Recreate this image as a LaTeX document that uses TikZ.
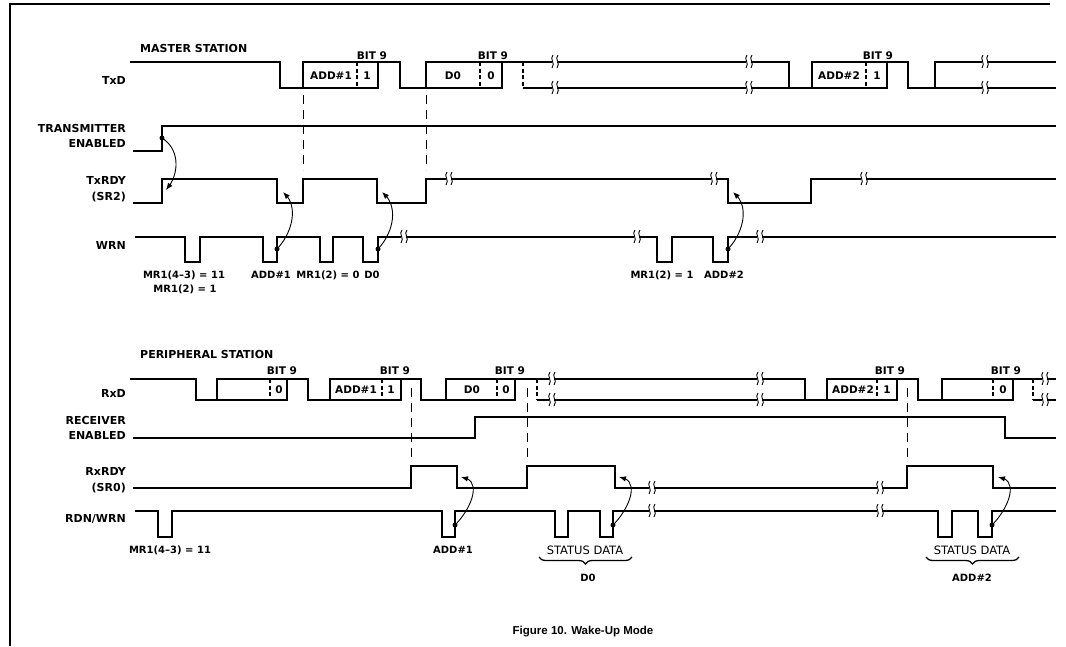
\documentclass[tikz,border=0pt]{standalone}
\usepackage{fontspec}
\setmainfont{DejaVu Sans}
\newfontfamily\capfont{Liberation Sans}
\usepackage{tikz}
\usetikzlibrary{arrows.meta}
\usetikzlibrary{bending}
\usetikzlibrary{decorations.pathreplacing}

\newcommand{\wbreak}[2]{%
	\fill[white] (#1-1,#2-1.8) rectangle (#1+4,#2+1.8);
	\draw (#1,#2-7) .. controls (#1-4,#2-3) and (#1+3,#2+1) .. (#1-1,#2+6) [line width=0.9pt];
	\draw (#1+5,#2-7) .. controls (#1+1,#2-3) and (#1+8,#2+1) .. (#1+4,#2+6) [line width=0.9pt];
}

\begin{document}
\begin{tikzpicture}[x=1pt, y=-1pt,
	sig/.style={line width=1.7pt},
	sep/.style={line width=1.5pt, dash pattern=on 4pt off 2.5pt},
	guide/.style={line width=0.9pt, dash pattern=on 9pt off 6pt},
	lbl/.style={font=\bfseries\fontsize{11}{15.5}\selectfont, align=right, anchor=east, inner sep=0pt},
	head/.style={font=\bfseries\fontsize{11}{13}\selectfont, inner sep=0pt, anchor=west},
	txt/.style={font=\bfseries\fontsize{10.5}{12}\selectfont, inner sep=0pt},
	note/.style={font=\bfseries\fontsize{10}{12}\selectfont, inner sep=0pt},
	stat/.style={font=\fontsize{11.5}{13}\selectfont, inner sep=0pt},
	cause/.style={line width=0.9pt, -{Latex[length=7pt,width=5.5pt]}},
	dot/.style={circle, fill, inner sep=0pt, minimum size=5pt}]
	\useasboundingbox (0,0) rectangle (1066,646);
	\draw (10,646) -- (10,4) -- (1050,4) [line width=1.3pt];

	\node[head] (mst) at (140,48) {MASTER STATION};
	\node[lbl] (lTxD) at (126,80) {TxD};
	\node[lbl] (lTxEn) at (126,136) {TRANSMITTER\\ENABLED};
	\node[lbl] (lTxRdy) at (126,189) {TxRDY\\(SR2)};
	\node[lbl] (lWrn) at (126,245) {WRN};

	\draw (130,62) -- (280,62) -- (280,88) -- (303,88) -- (303,62) -- (400,62) -- (400,88)
		-- (426,88) -- (426,62) -- (789,62) -- (789,88) -- (812,88) -- (812,62) -- (908,62)
		-- (908,88) -- (935,88) -- (935,62) -- (1056,62) [sig];
	\draw (303,88) -- (378,88) -- (378,62) [sig];
	\draw (426,88) -- (502,88) -- (502,62) [sig];
	\draw (812,88) -- (887,88) -- (887,62) [sig];
	\draw (523,88) -- (789,88) [sig];
	\draw (935,88) -- (1056,88) [sig];
	\foreach \x in {357,480,523,866}
		\draw (\x,62) -- (\x,88) [sep];
	\foreach \x in {553,747,983} {
		\wbreak{\x}{62}
		\wbreak{\x}{88}
	}
	\node[txt] (tb9a) at (372,56) {BIT 9};
	\node[txt] (tb9b) at (493,56) {BIT 9};
	\node[txt] (tb9c) at (878,56) {BIT 9};
	\node[txt] (tadd1) at (331,76) {ADD\#1};
	\node[txt] (tbit1) at (367,76) {1};
	\node[txt] (td0) at (453,76) {D0};
	\node[txt] (tbit0) at (491,76) {0};
	\node[txt] (tadd2) at (839,76) {ADD\#2};
	\node[txt] (tbit2) at (877,76) {1};

	\draw (133,151) -- (162,151) -- (162,126) -- (1056,126) [sig];

	\draw (133,203) -- (162,203) -- (162,179) -- (277,179) -- (277,203) -- (303,203) -- (303,179)
		-- (377,179) -- (377,203) -- (426,203) -- (426,179) -- (728,179) -- (728,203) -- (811,203)
		-- (811,179) -- (1056,179) [sig];
	\foreach \x in {447,712,862} {
		\wbreak{\x}{179}
	}

	\draw (135,237) -- (185,237) -- (185,262) -- (200,262) -- (200,237) -- (263,237) -- (263,262)
		-- (277,262) -- (277,237) -- (320,237) -- (320,262) -- (333,262) -- (333,237) -- (363,237)
		-- (363,262) -- (378,262) -- (378,237) -- (657,237) -- (657,262) -- (672,262) -- (672,237)
		-- (713,237) -- (713,262) -- (728,262) -- (728,237) -- (1056,237) [sig];
	\foreach \x in {402,635,758} {
		\wbreak{\x}{237}
	}

	\draw (303,95) -- (303,170) [guide];
	\draw (426,95) -- (426,170) [guide];

	\node[note] (w1) at (184,275) {MR1(4--3) = 11};
	\node[note] (w2) at (185,289) {MR1(2) = 1};
	\node[note] (w3) at (271,275) {ADD\#1};
	\node[note] (w4) at (328,275) {MR1(2) = 0};
	\node[note] (w5) at (372,275) {D0};
	\node[note] (w6) at (662,275) {MR1(2) = 1};
	\node[note] (w7) at (724,275) {ADD\#2};

	\coordinate (en) at (162,138);
	\coordinate (rdyA) at (166,190);
	\coordinate (wAdd1) at (277,249);
	\coordinate (rdyB) at (283,192);
	\coordinate (wD0) at (378,249);
	\coordinate (rdyC) at (382,192);
	\coordinate (wAdd2) at (728,249);
	\coordinate (rdyD) at (733,192);
	\foreach \c in {en,wAdd1,wD0,wAdd2}
		\node[dot] at (\c) {};
	\draw[cause] (en) .. controls (181,150) and (179,176) .. (rdyA);
	\draw[cause] (wAdd1) .. controls (293,232) and (299,205) .. (rdyB);
	\draw[cause] (wD0) .. controls (394,232) and (399,205) .. (rdyC);
	\draw[cause] (wAdd2) .. controls (744,232) and (750,205) .. (rdyD);

	\node[head] (per) at (140,354) {PERIPHERAL STATION};
	\node[lbl] (lRxD) at (126,393) {RxD};
	\node[lbl] (lRxEn) at (126,428) {RECEIVER\\ENABLED};
	\node[lbl] (lRxRdy) at (126,480) {RxRDY\\(SR0)};
	\node[lbl] (lRdWr) at (126,519) {RDN/WRN};

	\draw (130,379) -- (196,379) -- (196,400) -- (217,400) -- (217,379) -- (308,379) -- (308,400)
		-- (330,400) -- (330,379) -- (421,379) -- (421,400) -- (446,400) -- (446,379) -- (805,379)
		-- (805,400) -- (827,400) -- (827,379) -- (918,379) -- (918,400) -- (942,400) -- (942,379)
		-- (1056,379) [sig];
	\draw (217,400) -- (287,400) -- (287,379) [sig];
	\draw (330,400) -- (401,400) -- (401,379) [sig];
	\draw (446,400) -- (515,400) -- (515,379) [sig];
	\draw (827,400) -- (897,400) -- (897,379) [sig];
	\draw (942,400) -- (1013,400) -- (1013,379) [sig];
	\draw (537,400) -- (805,400) [sig];
	\draw (1033,400) -- (1056,400) [sig];
	\foreach \x in {270,382,497,537,877,993,1033}
		\draw (\x,379) -- (\x,400) [sep];
	\foreach \x in {550,758,1043} {
		\wbreak{\x}{379}
		\wbreak{\x}{400}
	}
	\node[txt] (rb9a) at (282,371) {BIT 9};
	\node[txt] (rb9b) at (395,371) {BIT 9};
	\node[txt] (rb9c) at (510,371) {BIT 9};
	\node[txt] (rb9d) at (890,371) {BIT 9};
	\node[txt] (rb9e) at (1006,371) {BIT 9};
	\node[txt] (rbit0) at (279,390) {0};
	\node[txt] (radd1) at (356,390) {ADD\#1};
	\node[txt] (rbit1) at (391,390) {1};
	\node[txt] (rd0) at (472,390) {D0};
	\node[txt] (rbit0b) at (506,390) {0};
	\node[txt] (radd2) at (853,390) {ADD\#2};
	\node[txt] (rbit2) at (887,390) {1};
	\node[txt] (rbit0c) at (1003,390) {0};

	\draw (133,438) -- (475,438) -- (475,417) -- (1005,417) -- (1005,438) -- (1056,438) [sig];

	\draw (411,388) -- (411,458) [guide];
	\draw (527,388) -- (527,458) [guide];
	\draw (907,388) -- (907,458) [guide];

	\draw (133,488) -- (411,488) -- (411,466) -- (457,466) -- (457,488) -- (527,488) -- (527,466)
		-- (615,466) -- (615,488) -- (907,488) -- (907,466) -- (993,466) -- (993,488) -- (1056,488) [sig];
	\foreach \x in {650,878} {
		\wbreak{\x}{488}
	}

	\draw (135,511) -- (158,511) -- (158,537) -- (172,537) -- (172,511) -- (442,511) -- (442,537)
		-- (455,537) -- (455,511) -- (555,511) -- (555,537) -- (568,537) -- (568,511) -- (600,511)
		-- (600,537) -- (613,537) -- (613,511) -- (938,511) -- (938,537) -- (952,537) -- (952,511)
		-- (978,511) -- (978,537) -- (992,537) -- (992,511) -- (1056,511) [sig];
	\foreach \x in {650,878} {
		\wbreak{\x}{511}
	}

	\coordinate (rAdd1) at (455,525);
	\coordinate (rdyE) at (461,477);
	\coordinate (rD0) at (613,525);
	\coordinate (rdyF) at (619,477);
	\coordinate (rAdd2) at (992,525);
	\coordinate (rdyG) at (998,477);
	\foreach \c in {rAdd1,rD0,rAdd2}
		\node[dot] at (\c) {};
	\draw[cause] (rAdd1) .. controls (472,508) and (483,479) .. (rdyE);
	\draw[cause] (rD0) .. controls (630,508) and (641,479) .. (rdyF);
	\draw[cause] (rAdd2) .. controls (1009,508) and (1020,479) .. (rdyG);

	\node[note] (p1) at (170,550) {MR1(4--3) = 11};
	\node[note] (p2) at (453,550) {ADD\#1};
	\node[stat] (p3) at (585,550) {STATUS DATA};
	\node[stat] (p4) at (972,550) {STATUS DATA};
	\draw[decorate, decoration={brace, mirror, amplitude=7pt}, line width=1.3pt] (539,557) -- (632,557);
	\draw[decorate, decoration={brace, mirror, amplitude=7pt}, line width=1.3pt] (926,557) -- (1019,557);
	\node[note] (p5) at (588,578) {D0};
	\node[note] (p6) at (972,578) {ADD\#2};

	\node[font=\capfont\bfseries\fontsize{11.5}{13}\selectfont] (cap) at (583,632) {Figure 10. Wake-Up Mode};
\end{tikzpicture}
\end{document}
